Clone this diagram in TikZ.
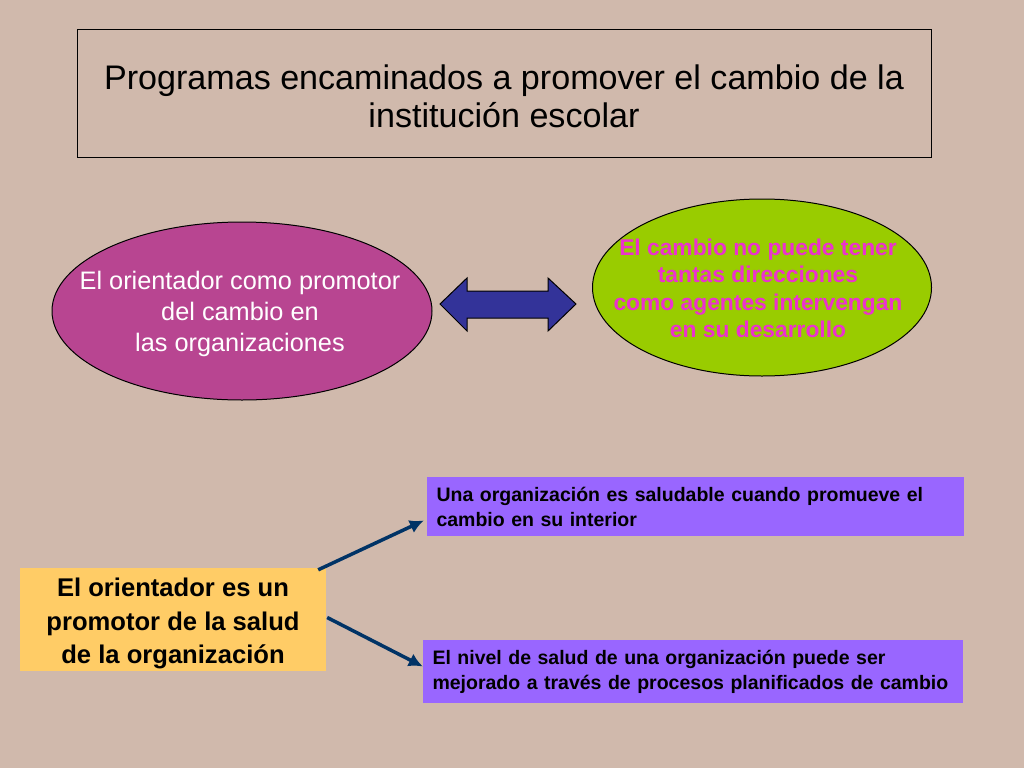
\documentclass[tikz,border=0pt]{standalone}
\usepackage{fontspec}
\setmainfont{Liberation Sans}
\usetikzlibrary{positioning}
\usetikzlibrary{shapes.geometric}
\usetikzlibrary{arrows.meta}

\definecolor{fondo}{RGB}{208,185,172}
\definecolor{magenta}{RGB}{184,69,145}
\definecolor{verde}{RGB}{153,204,0}
\definecolor{rosa}{RGB}{235,50,205}
\definecolor{azul}{RGB}{51,51,153}
\definecolor{amarillo}{RGB}{255,204,102}
\definecolor{lila}{RGB}{153,102,255}
\definecolor{marino}{RGB}{0,51,102}

\begin{document}
\begin{tikzpicture}[x=1pt, y=-1pt,
  globo/.style={ellipse, draw=black, line width=1pt, inner sep=0pt},
  texto/.style={inner sep=0pt, align=center},
  caja/.style={rectangle, fill=lila, inner sep=9.5pt, minimum width=537pt, minimum height=57pt,
    text width=518pt, align=left, font=\bfseries\fontsize{19.5}{25}\selectfont},
  flecha/.style={draw=marino, line width=3.5pt, -{Latex[length=14pt,width=14pt]}}]
% Set the size of the figure
\fill[fondo] (0,0) rectangle (1024,768);
\useasboundingbox (0,0) rectangle (1024,768);

% Title
\node[draw=black, line width=0.8pt, minimum width=854pt, minimum height=128pt] (titulo) at (504,93) {};
\node[texto, font=\fontsize{34.1}{38}\selectfont] (titulotexto) at ([yshift=-3pt]titulo.center)
  {Programas encaminados a promover el cambio de la\\institución escolar};

% The two ellipses and the arrow between them
\node[globo, fill=magenta, minimum width=380pt, minimum height=178pt] (orientador) at (242,311) {};
\node[texto, text=white, font=\fontsize{25.3}{31}\selectfont] (orientadortexto)
  at ([xshift=-2pt,yshift=-3pt]orientador.center)
  {El orientador como promotor\\del cambio en\\ las organizaciones};
\node[globo, fill=verde, minimum width=339pt, minimum height=177pt] (cambio) at (762,287.5) {};
\node[texto, text=rosa, font=\bfseries\fontsize{22.8}{27.5}\selectfont] (cambiotexto)
  at ([xshift=-4pt,yshift=-1pt]cambio.center)
  {El cambio no puede tener\\tantas direcciones\\como agentes intervengan\\en su desarrollo};
\draw[fill=azul, draw=black, line width=1pt, shift={(508,304)}]
  (-68,0) -- (-41,-26) -- (-41,-13) -- (40,-13) -- (40,-26) -- (68,0)
  -- (40,27) -- (40,14) -- (-41,14) -- (-41,27) -- cycle;

% Health of the organization
\node[fill=amarillo, minimum width=306pt, minimum height=103pt] (salud) at (173,619.5) {};
\node[texto, font=\bfseries\fontsize{25.6}{33.5}\selectfont] (saludtexto)
  at ([yshift=-4pt]salud.center)
  {El orientador es un\\promotor de la salud\\de la organización};
\node[caja] (sano) at (695.5,506.5)
  {Una organización es saludable cuando promueve el\\cambio en su interior};
\node[caja, minimum width=540pt, text width=521pt] (nivel) at (693,671.5)
  {El nivel de salud de una organización puede ser\\mejorado a través de procesos planificados de cambio};

\draw[flecha] ([xshift=-8pt,yshift=-2pt]salud.north east) -- ([xshift=-3pt,yshift=-14pt]sano.west);
\draw[flecha] ([xshift=1pt,yshift=2pt]salud.east) -- ([yshift=5pt]nivel.west);
\end{tikzpicture}
\end{document}
